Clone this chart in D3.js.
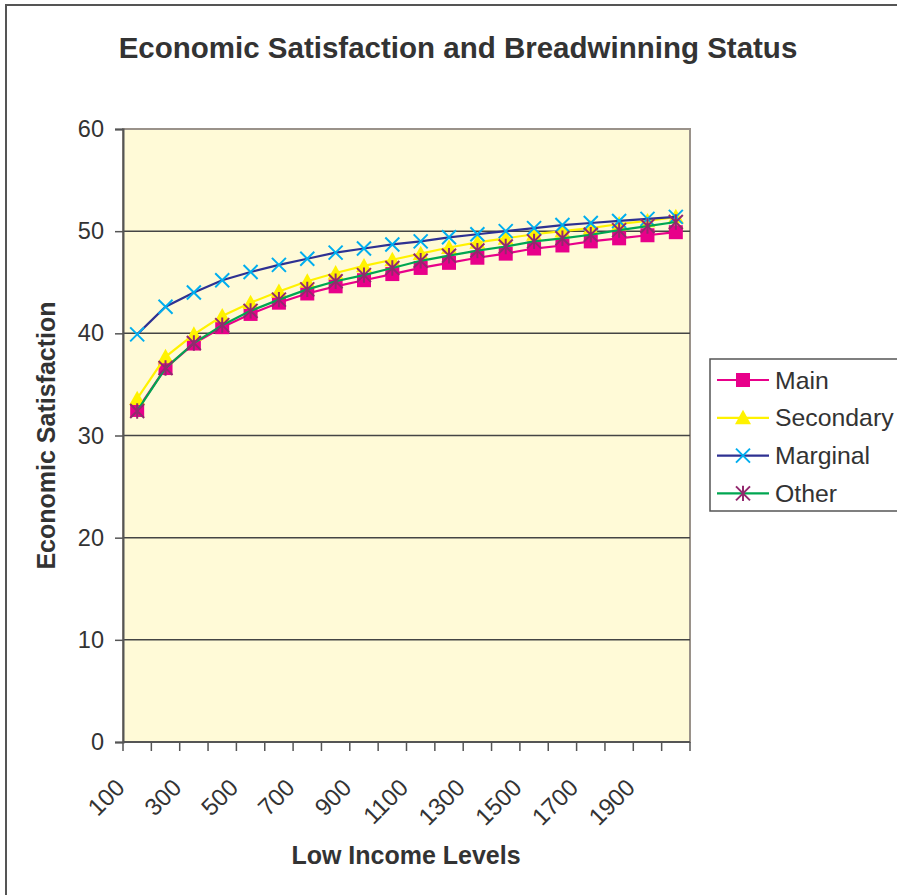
<!DOCTYPE html>
<html>
<head>
<meta charset="utf-8">
<script src="https://cdn.jsdelivr.net/npm/d3@7.9.0/dist/d3.min.js"></script>
<style>
  body { margin: 0; background: #fff; }
  svg { display: block; font-family: "Liberation Sans", Arial, sans-serif; }
</style>
</head>
<body>
<svg width="897" height="895"></svg>
<script>
const incomeLevels = [100, 200, 300, 400, 500, 600, 700, 800, 900, 1000,
  1100, 1200, 1300, 1400, 1500, 1600, 1700, 1800, 1900, 2000];
const yTicks = [0, 10, 20, 30, 40, 50, 60];

const main = [32.5, 36.6, 39.0, 40.6, 41.9, 43.0, 43.9, 44.6, 45.2, 45.8,
  46.4, 46.9, 47.4, 47.8, 48.3, 48.6, 49.0, 49.3, 49.6, 49.9];
const secondary = [33.6, 37.7, 39.9, 41.7, 43.0, 44.1, 45.1, 45.9, 46.6, 47.2,
  47.8, 48.4, 48.9, 49.3, 49.7, 50.0, 50.3, 50.7, 51.0, 51.4];
const marginal = [39.9, 42.6, 44.0, 45.2, 46.0, 46.7, 47.3, 47.9, 48.3, 48.7,
  49.0, 49.4, 49.7, 50.0, 50.3, 50.6, 50.8, 51.0, 51.2, 51.4];
const other = [32.4, 36.6, 39.05, 40.8, 42.2, 43.3, 44.3, 45.1, 45.7, 46.4,
  47.1, 47.6, 48.1, 48.5, 49.0, 49.3, 49.65, 50.1, 50.5, 50.9];

// custom marker shapes (size = half width)
const markSquare = { draw(p, r) { p.rect(-r, -r, 2 * r, 2 * r); } };
const markTriangle = { draw(p, r) { p.moveTo(0, -r); p.lineTo(r, r * 0.8); p.lineTo(-r, r * 0.8); p.closePath(); } };
const markX = { draw(p, r) { p.moveTo(-r, -r); p.lineTo(r, r); p.moveTo(r, -r); p.lineTo(-r, r); } };
const markStar = { draw(p, r) { p.moveTo(-r, -r); p.lineTo(r, r); p.moveTo(r, -r); p.lineTo(-r, r); p.moveTo(0, -r * 1.1); p.lineTo(0, r * 1.1); } };

const series = [
  { name: 'Main', values: main, line: '#e8008a', mark: markSquare, fill: '#e8008a', stroke: 'none', r: 7 },
  { name: 'Secondary', values: secondary, line: '#fff200', mark: markTriangle, fill: '#fff200', stroke: 'none', r: 8 },
  { name: 'Marginal', values: marginal, line: '#2e3192', mark: markX, fill: 'none', stroke: '#00aeef', r: 7 },
  { name: 'Other', values: other, line: '#00a651', mark: markStar, fill: 'none', stroke: '#93286e', r: 7 }
];

const svg = d3.select('svg');
const plot = { left: 123, right: 690, top: 129, bottom: 742 };

// outer frame
svg.append('rect')
  .attr('x', 6).attr('y', 5).attr('width', 920).attr('height', 920)
  .attr('fill', '#fff').attr('stroke', '#555').attr('stroke-width', 2);

const x = d3.scaleBand().domain(incomeLevels).range([plot.left, plot.right]);
const y = d3.scaleLinear().domain([0, 60]).range([plot.bottom, plot.top]);
const cx = (d) => x(d) + x.bandwidth() / 2;

// plot area
svg.append('rect')
  .attr('x', plot.left).attr('y', plot.top)
  .attr('width', plot.right - plot.left).attr('height', plot.bottom - plot.top)
  .attr('fill', '#fffad7').attr('stroke', '#9a928a').attr('stroke-width', 2);

// gridlines
svg.append('g').selectAll('line')
  .data(yTicks.slice(1, -1))
  .join('line')
  .attr('x1', plot.left).attr('x2', plot.right)
  .attr('y1', (d) => y(d)).attr('y2', (d) => y(d))
  .attr('stroke', '#444').attr('stroke-width', 1.5);

// y axis
const yAxis = svg.append('g')
  .attr('transform', `translate(${plot.left},0)`)
  .call(d3.axisLeft(y).tickValues(yTicks).tickSize(8).tickPadding(11));
yAxis.select('.domain').attr('stroke', '#555').attr('stroke-width', 2);
yAxis.selectAll('.tick line').attr('stroke', '#555').attr('stroke-width', 1.5);
yAxis.selectAll('.tick text')
  .attr('font-size', 23.5).attr('fill', '#333')
  .attr('font-family', '"Liberation Sans", Arial, sans-serif');

// x axis: ticks on band edges
const xg = svg.append('g');
xg.append('line')
  .attr('x1', plot.left).attr('x2', plot.right)
  .attr('y1', plot.bottom).attr('y2', plot.bottom)
  .attr('stroke', '#555').attr('stroke-width', 2);
xg.selectAll('line.tk')
  .data(incomeLevels.concat(['end']))
  .join('line')
  .attr('class', 'tk')
  .attr('x1', (d) => d === 'end' ? plot.right : x(d))
  .attr('x2', (d) => d === 'end' ? plot.right : x(d))
  .attr('y1', plot.bottom).attr('y2', plot.bottom + 9)
  .attr('stroke', '#555').attr('stroke-width', 1.5);
xg.selectAll('text')
  .data(incomeLevels.filter((d, i) => i % 2 === 0))
  .join('text')
  .attr('transform', (d) => `translate(${cx(d) - 11},${plot.bottom + 47}) rotate(-45)`)
  .attr('text-anchor', 'end')
  .attr('font-size', 24).attr('fill', '#333')
  .text((d) => d);

// series
const lineGen = d3.line().x((d, i) => cx(incomeLevels[i])).y((d) => y(d));
series.forEach((s) => {
  const g = svg.append('g');
  g.append('path')
    .attr('d', lineGen(s.values))
    .attr('fill', 'none').attr('stroke', s.line).attr('stroke-width', 2.2);
  g.selectAll('path.m')
    .data(s.values)
    .join('path')
    .attr('class', 'm')
    .attr('transform', (d, i) => `translate(${cx(incomeLevels[i])},${y(d)})`)
    .attr('d', d3.symbol(s.mark, s.r))
    .attr('fill', s.fill).attr('stroke', s.stroke).attr('stroke-width', 2);
});

// titles
svg.append('text')
  .attr('x', 458).attr('y', 58)
  .attr('text-anchor', 'middle')
  .attr('font-size', 29.5).attr('font-weight', 'bold').attr('fill', '#333')
  .text('Economic Satisfaction and Breadwinning Status');

svg.append('text')
  .attr('x', 406).attr('y', 864)
  .attr('text-anchor', 'middle')
  .attr('font-size', 25).attr('font-weight', 'bold').attr('fill', '#333')
  .text('Low Income Levels');

svg.append('text')
  .attr('transform', `translate(55,${(plot.top + plot.bottom) / 2}) rotate(-90)`)
  .attr('text-anchor', 'middle')
  .attr('font-size', 25).attr('font-weight', 'bold').attr('fill', '#333')
  .text('Economic Satisfaction');

// legend
const legend = svg.append('g');
legend.append('rect')
  .attr('x', 710).attr('y', 359).attr('width', 200).attr('height', 152)
  .attr('fill', '#fff').attr('stroke', '#555').attr('stroke-width', 1.5);
const rows = legend.selectAll('g.row')
  .data(series)
  .join('g')
  .attr('class', 'row')
  .attr('transform', (d, i) => `translate(0,${380 + i * 37.8})`);
rows.append('line')
  .attr('x1', 717).attr('x2', 769)
  .attr('stroke', (d) => d.line).attr('stroke-width', 2.2);
rows.append('path')
  .attr('transform', 'translate(743,0)')
  .attr('d', (d) => d3.symbol(d.mark, d.r)())
  .attr('fill', (d) => d.fill).attr('stroke', (d) => d.stroke).attr('stroke-width', 2);
rows.append('text')
  .attr('x', 775).attr('dy', '0.35em')
  .attr('font-size', 24.8).attr('fill', '#333')
  .text((d) => d.name);
</script>
</body>
</html>
